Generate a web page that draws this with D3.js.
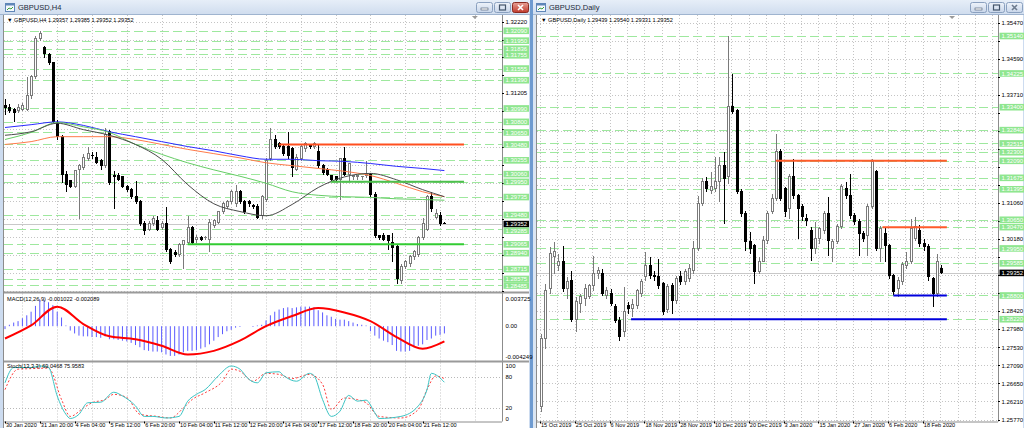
<!DOCTYPE html>
<html><head><meta charset="utf-8">
<script src="https://cdn.jsdelivr.net/npm/d3@7"></script>
<style>
body{margin:0;background:#cddcf0;}
svg{display:block;font-family:"Liberation Sans",Arial,sans-serif;}
</style></head><body>
<svg id="c" width="1024" height="428"></svg>
<script>
// ---------------- DATA: H4 chart ----------------
const h4Open=[1.3102,1.3099,1.3097,1.3095,1.3097,1.3097,1.3116,1.3143,1.3197,1.3185,
1.3174,1.3164,1.3079,1.3059,1.3005,1.2996,1.2988,1.3012,1.3015,1.3028,
1.3032,1.3029,1.3024,1.3017,1.3065,1.3004,1.3004,1.3002,1.2988,1.2984,
1.2974,1.2966,1.2935,1.2927,1.2935,1.2939,1.2930,1.2935,1.2899,1.2894,
1.2892,1.2906,1.2909,1.2929,1.2912,1.2916,1.2915,1.2913,1.2932,1.2937,
1.2952,1.2959,1.2966,1.2963,1.2981,1.2967,1.2967,1.2961,1.2960,1.2946,
1.2970,1.3027,1.3055,1.3048,1.3045,1.3044,1.3041,1.3012,1.3027,1.3041,
1.3046,1.3044,1.3038,1.3017,1.3012,1.3003,1.3002,1.2998,1.3027,1.3005,
1.3002,1.3002,1.3002,1.3003,1.3005,1.2977,1.2918,1.2919,1.2918,1.2909,
1.2903,1.2854,1.2875,1.2878,1.2888,1.2892,1.2916,1.2927,1.2973,1.2944,
1.2946,1.29357];
const h4High=[1.3112,1.3105,1.3100,1.3106,1.3107,1.3143,1.3147,1.3201,1.3209,1.3188,
1.3177,1.3165,1.3083,1.3062,1.3010,1.2998,1.3012,1.3020,1.3034,1.3045,
1.3037,1.3038,1.3027,1.3072,1.3069,1.3010,1.3008,1.3004,1.2991,1.2987,
1.2996,1.2969,1.2939,1.2939,1.2946,1.2946,1.2939,1.2959,1.2902,1.2899,
1.2909,1.2913,1.2946,1.2932,1.2920,1.2919,1.2919,1.2942,1.2942,1.2954,
1.2966,1.2970,1.2983,1.2991,1.2984,1.2970,1.2970,1.2964,1.2963,1.2976,
1.3029,1.3072,1.3062,1.3051,1.3048,1.3066,1.3044,1.3034,1.3048,1.3051,
1.3049,1.3051,1.3048,1.3020,1.3015,1.3005,1.3004,1.3029,1.3045,1.3022,
1.3005,1.3004,1.3004,1.3024,1.3008,1.2980,1.2920,1.2922,1.2920,1.2923,
1.2906,1.2878,1.2885,1.2891,1.2899,1.2919,1.2944,1.2976,1.2981,1.2956,
1.2953,1.29385];
const h4Low=[1.3090,1.3092,1.3080,1.3092,1.3095,1.3095,1.3113,1.3140,1.3194,1.3171,
1.3161,1.3078,1.3055,1.2994,1.2981,1.2986,1.2986,1.2942,1.3012,1.3025,
1.3027,1.3020,1.3012,1.3014,1.2991,1.2956,1.2996,1.2986,1.2980,1.2971,
1.2963,1.2932,1.2920,1.2925,1.2932,1.2925,1.2927,1.2896,1.2879,1.2888,
1.2889,1.2871,1.2906,1.2906,1.2908,1.2911,1.2912,1.2895,1.2929,1.2935,
1.2949,1.2956,1.2963,1.2960,1.2964,1.2950,1.2960,1.2956,1.2942,1.2943,
1.2967,1.3024,1.3041,1.3041,1.3031,1.3027,1.3002,1.3010,1.3024,1.3038,
1.3041,1.3041,1.3014,1.3005,1.3003,1.2996,1.2996,1.2970,1.3003,1.2996,
1.2998,1.2998,1.2998,1.3000,1.2974,1.2915,1.2913,1.2911,1.2899,1.2882,
1.2850,1.2851,1.2872,1.2875,1.2885,1.2889,1.2913,1.2925,1.2953,1.2942,
1.2932,1.29352];
const h4Close=[1.3099,1.3096,1.3093,1.3100,1.3102,1.3116,1.3144,1.3197,1.3205,1.3176,
1.3164,1.3080,1.3059,1.3005,1.2991,1.2988,1.3010,1.3017,1.3029,1.3034,
1.3031,1.3022,1.3017,1.3062,1.2994,1.3002,1.2998,1.2988,1.2984,1.2974,
1.2966,1.2935,1.2925,1.2935,1.2942,1.2927,1.2935,1.2899,1.2882,1.2891,
1.2906,1.2911,1.2929,1.2909,1.2916,1.2913,1.2916,1.2937,1.2939,1.2952,
1.2963,1.2966,1.2980,1.2981,1.2967,1.2953,1.2963,1.2959,1.2944,1.2973,
1.3024,1.3055,1.3044,1.3044,1.3034,1.3031,1.3015,1.3029,1.3045,1.3048,
1.3044,1.3048,1.3017,1.3008,1.3005,1.2998,1.2998,1.3027,1.3005,1.3020,
1.3003,1.3003,1.3002,1.3005,1.2977,1.2918,1.2916,1.2913,1.2911,1.2902,
1.2857,1.2875,1.2882,1.2888,1.2896,1.2916,1.2935,1.2973,1.2956,1.2949,
1.2935,1.29352];
const h4DateLabels=["30 Jan 2020","31 Jan 20:00","4 Feb 04:00","5 Feb 12:00","6 Feb 20:00","10 Feb 04:00","11 Feb 12:00","12 Feb 20:00","14 Feb 04:00","17 Feb 12:00","18 Feb 20:00","20 Feb 04:00","21 Feb 12:00"];
const h4DateIdx=[0,8,16,24,32,40,48,56,64,72,80,88,96];
const h4Ticks=[1.32220,1.31965,1.31715,1.31460,1.31205,1.30950,1.30695,1.30440,1.30185,1.29930,1.29680,1.29425,1.29170,1.28915,1.28660,1.28410];
const h4Levels=[1.32090,1.31950,1.31836,1.31755,1.31555,1.31390,1.30990,1.30800,1.30650,1.30480,1.30255,1.30060,1.29950,1.29735,1.29480,1.29285,1.29065,1.28940,1.28715,1.28575,1.28485];
const h4Header=["1.29357","1.29385","1.29352","1.29352"];
// moving averages (sampled at bar indices)
const maIdx=[0,6,12,18,24,30,36,42,48,54,60,66,72,78,84,90,96,101];
const maBlue=[1.3072,1.3076,1.3080,1.3075,1.3066,1.3059,1.3052,1.3045,1.3039,1.3032,1.3027,1.3027,1.3025,1.3024,1.3021,1.3017,1.3014,1.3011];
const maOrange=[1.3048,1.3052,1.3059,1.3059,1.3059,1.3055,1.3048,1.3041,1.3035,1.3029,1.3022,1.3018,1.3014,1.3010,1.3004,1.2993,1.2981,1.2974];
const maGreen=[1.3055,1.3065,1.3079,1.3073,1.3065,1.3048,1.3034,1.3022,1.3012,1.3003,1.2993,1.2981,1.2976,1.2974,1.2973,1.2971,1.2970,1.2969];
const maGray=[1.3061,1.3066,1.3078,1.3069,1.3061,1.3048,1.3027,1.2991,1.2964,1.2953,1.2947,1.2963,1.2987,1.3002,1.3007,1.2998,1.2984,1.2974];
// objects on H4
const h4LinePrice=[1.30480,1.29950,1.29065];
const h4LineFrom=[63,75,42];
const h4LineTo=[105.5,105.5,105.5];
const h4LineColor=["#ff4f1f","#4dbf4d","#33cc33"];
// MACD
const macdHist=[-0.0004,0.0002,0.0005,0.0007,0.0011,0.0015,0.0020,0.0028,0.0037,0.0036,
0.0033,0.0029,0.0020,0.0012,0.0001,-0.0006,-0.0010,-0.0013,-0.0014,-0.0014,
-0.0015,-0.0015,-0.0016,-0.0014,-0.0018,-0.0018,-0.0019,-0.0020,-0.0021,-0.0023,
-0.0026,-0.0029,-0.0033,-0.0034,-0.0035,-0.0035,-0.0036,-0.0039,-0.0041,-0.0041,
-0.0039,-0.0036,-0.0034,-0.0034,-0.0033,-0.0031,-0.0029,-0.0025,-0.0020,-0.0015,
-0.0011,-0.0007,-0.0005,-0.0002,-0.0001,0.0000,0.0000,-0.0001,0.0001,0.0002,
0.0008,0.0015,0.0020,0.0023,0.0025,0.0026,0.0025,0.0026,0.0027,0.0027,
0.0027,0.0026,0.0022,0.0019,0.0015,0.0013,0.0010,0.0009,0.0009,0.0007,
0.0005,0.0003,0.0002,0.0001,-0.0007,-0.0013,-0.0017,-0.0020,-0.0022,-0.0026,
-0.0034,-0.0035,-0.0035,-0.0034,-0.0029,-0.0027,-0.0025,-0.0019,-0.0017,-0.0013,
-0.0012,-0.0010];
const macdSigIdx=[0,6,12,18,24,30,36,42,48,54,60,66,72,78,84,90,96,101];
const macdSig=[-0.0017,0.0001,0.0027,0.0003,-0.0014,-0.0018,-0.0027,-0.0039,-0.0034,-0.0020,0.0000,0.0014,0.0025,0.0019,0.0007,-0.0015,-0.0031,-0.0021];
const macdTicks=["0.003725","0.00","-0.004249"];
const macdTickVals=[0.003725,0,-0.004249];
// Stochastic
const stMainIdx=[0,2,6,8,10,12,14,15,17,19,22,25,27,30,32,34,37,40,42,44,46,49,52,54,56,58,60,63,64,67,70,71,73,75,77,79,81,83,85,86,91,95,97,98,101];
const stMain=[68,97,97,100,97,43,8,0,8,30,31,50,43,24,4,4,1,4,33,46,55,81,100,94,75,68,87,89,82,71,86,82,36,4,14,44,33,35,11,0,4,24,55,86,69];
const stSigIdx=[0,3,6,10,13,15,18,20,23,25,28,31,35,38,41,43,46,50,52,54,57,60,63,66,70,73,75,78,81,83,86,91,95,97,99,101];
const stSig=[55,94,95,96,36,4,20,30,36,46,40,8,4,1,20,36,49,71,94,90,71,86,84,76,84,65,17,39,36,30,4,1,17,55,81,76];
const stTicks=[100,80,20,0];

// ---------------- DATA: Daily chart ----------------
const dOpen=[1.2608,1.2774,1.2896,1.2975,1.2952,1.2962,1.2896,1.2916,1.2820,1.2858,
1.2872,1.2877,1.2903,1.2933,1.2933,1.2879,1.2884,1.2852,1.2818,1.2790,
1.2855,1.2847,1.2855,1.2884,1.2925,1.2952,1.2928,1.2925,1.2908,1.2845,
1.2903,1.2867,1.2925,1.2913,1.2920,1.2940,1.2994,1.3104,1.3157,1.3135,
1.3140,1.3157,1.3196,1.3170,1.3340,1.3331,1.3133,1.3079,1.3011,1.3001,
1.2938,1.2962,1.3013,1.3084,1.3116,1.3230,1.3140,1.3091,1.3170,1.3123,
1.3096,1.3067,1.3038,1.2994,1.3018,1.3038,1.3079,1.2994,1.3011,1.3047,
1.3140,1.3123,1.3074,1.3060,1.3030,1.3025,1.3096,1.3182,1.2994,1.3030,
1.3001,1.2928,1.2896,1.2913,1.2952,1.2962,1.3018,1.3038,1.3006,1.2999,
1.2920,1.2884,1.29439];
const dHigh=[1.2786,1.2908,1.2999,1.3011,1.2981,1.3001,1.2925,1.2940,1.2877,1.2884,
1.2908,1.2908,1.2977,1.2950,1.2945,1.2901,1.2896,1.2860,1.2828,1.2901,
1.2864,1.2872,1.2896,1.2920,1.2986,1.2974,1.2940,1.2969,1.2913,1.2908,
1.2911,1.2928,1.2940,1.2945,1.2957,1.3013,1.3123,1.3167,1.3170,1.3182,
1.3218,1.3218,1.3230,1.3514,1.3421,1.3335,1.3140,1.3086,1.3035,1.3006,
1.2974,1.3025,1.3086,1.3128,1.3274,1.3238,1.3145,1.3177,1.3213,1.3128,
1.3104,1.3079,1.3047,1.3060,1.3047,1.3086,1.3121,1.3018,1.3055,1.3152,
1.3157,1.3177,1.3082,1.3067,1.3038,1.3104,1.3213,1.3187,1.3050,1.3047,
1.3006,1.2933,1.2925,1.2962,1.2986,1.3067,1.3072,1.3052,1.3018,1.3006,
1.2925,1.2981,1.29540];
const dLow=[1.2596,1.2750,1.2884,1.2933,1.2940,1.2889,1.2872,1.2815,1.2791,1.2838,
1.2855,1.2872,1.2891,1.2920,1.2879,1.2872,1.2855,1.2813,1.2769,1.2779,
1.2835,1.2828,1.2847,1.2877,1.2916,1.2920,1.2916,1.2896,1.2833,1.2838,
1.2835,1.2860,1.2906,1.2906,1.2913,1.2933,1.2989,1.3099,1.3133,1.3128,
1.3133,1.3108,1.3055,1.3152,1.3323,1.3128,1.3072,1.2989,1.2981,1.2908,
1.2933,1.2962,1.3006,1.3079,1.3110,1.3111,1.3072,1.3067,1.3116,1.3018,
1.3062,1.3050,1.2964,1.2981,1.3006,1.3030,1.2977,1.2962,1.3006,1.3043,
1.3116,1.3067,1.3052,1.2977,1.3011,1.2977,1.3091,1.2989,1.2962,1.2962,
1.2920,1.2881,1.2877,1.2906,1.2945,1.2957,1.3013,1.2999,1.2989,1.2916,
1.2852,1.2877,1.29331];
const dClose=[1.2774,1.2891,1.2981,1.2986,1.2962,1.2896,1.2913,1.2820,1.2864,1.2877,
1.2896,1.2903,1.2933,1.2940,1.2884,1.2891,1.2860,1.2818,1.2779,1.2840,
1.2847,1.2857,1.2891,1.2913,1.2952,1.2928,1.2925,1.2903,1.2840,1.2901,
1.2867,1.2920,1.2913,1.2938,1.2945,1.2994,1.3104,1.3157,1.3140,1.3145,
1.3157,1.3196,1.3165,1.3340,1.3328,1.3133,1.3079,1.3011,1.2994,1.2938,
1.2962,1.3013,1.3079,1.3116,1.3230,1.3116,1.3084,1.3170,1.3123,1.3091,
1.3072,1.3062,1.2994,1.3018,1.3043,1.3079,1.3013,1.3011,1.3047,1.3145,
1.3123,1.3074,1.3060,1.3030,1.3018,1.3096,1.3206,1.2994,1.3043,1.3001,
1.2928,1.2889,1.2916,1.2955,1.2962,1.3043,1.3047,1.3006,1.2999,1.2925,
1.2884,1.2962,1.29352];
const dDateLabels=["15 Oct 2019","25 Oct 2019","6 Nov 2019","18 Nov 2019","28 Nov 2019","10 Dec 2019","20 Dec 2019","3 Jan 2020","15 Jan 2020","27 Jan 2020","6 Feb 2020","18 Feb 2020"];
const dDateIdx=[0,8,16,24,32,40,48,56,64,72,80,88];
const dTicks=[1.35470,1.35030,1.34590,1.34150,1.33710,1.33260,1.32820,1.32380,1.31940,1.31500,1.31060,1.30620,1.30180,1.29740,1.29300,1.28860,1.28420,1.27980,1.27530,1.27090,1.26650,1.26210,1.25770];
const dLevels=[1.35140,1.34225,1.33400,1.32840,1.32515,1.32300,1.32090,1.31675,1.31395,1.30650,1.30470,1.29950,1.29585,1.28800,1.28220];
const dHeader=["1.29439","1.29540","1.29331","1.29352"];
const dLinePrice=[1.32090,1.30470,1.28800,1.28220];
const dLineFrom=[54,78.5,81,20.7];
const dLineTo=[93.3,93.3,93.3,93.3];
const dLineColor=["#ff5a2a","#ff5a2a","#0000dd","#0000dd"];
const lastPrice=1.29352;

// ---------------- DRAW ----------------
const svg=d3.select("#c");
const fmt=d3.format(".5f");
svg.append("rect").attr("width",1024).attr("height",428).attr("fill","#cddcf0");
const defs=svg.append("defs");
const tg=defs.append("linearGradient").attr("id","tb").attr("x1",0).attr("y1",0).attr("x2",0).attr("y2",1);
tg.append("stop").attr("offset",0).attr("stop-color","#e6eef8");
tg.append("stop").attr("offset",1).attr("stop-color","#cfdcee");
const bg=defs.append("linearGradient").attr("id","btn").attr("x1",0).attr("y1",0).attr("x2",0).attr("y2",1);
bg.append("stop").attr("offset",0).attr("stop-color","#eef3fa");
bg.append("stop").attr("offset",1).attr("stop-color","#c8d6ea");
const rg=defs.append("linearGradient").attr("id","red").attr("x1",0).attr("y1",0).attr("x2",0).attr("y2",1);
rg.append("stop").attr("offset",0).attr("stop-color","#e8a197");
rg.append("stop").attr("offset",1).attr("stop-color","#c0392b");

function windowFrame(x0,x1,title,active){
  const g=svg.append("g");
  g.append("rect").attr("x",x0).attr("y",0).attr("width",x1-x0).attr("height",15).attr("fill","url(#tb)");
  g.append("line").attr("x1",x0).attr("x2",x1).attr("y1",14.5).attr("y2",14.5).attr("stroke","#9fb4cf");
  g.append("rect").attr("x",x0+5.5).attr("y",3.5).attr("width",9).attr("height",8).attr("fill","#f4f8fd").attr("stroke","#5f86b8");
  g.append("rect").attr("x",x0+5.5).attr("y",3.5).attr("width",9).attr("height",2).attr("fill","#5f86b8");
  g.append("path").attr("d",`M${x0+7} 10L${x0+9} 8L${x0+11} 9L${x0+13} 7`).attr("fill","none").attr("stroke","#3aa03a");
  g.append("text").attr("x",x0+18).attr("y",10).attr("font-size",7.5).attr("fill","#1e2a3a").text(title);
  const bx=[x1-54,x1-36,x1-18];
  bx.forEach((b,k)=>{
    const red=(k===2&&active);
    g.append("rect").attr("x",b+0.5).attr("y",2.5).attr("width",16).attr("height",10).attr("rx",2)
      .attr("fill",red?"url(#red)":"url(#btn)").attr("stroke",red?"#8a2a22":"#8aa0bf");
    if(k===0) g.append("rect").attr("x",b+5).attr("y",8).attr("width",7).attr("height",2).attr("fill","#fff").attr("stroke","#44556b").attr("stroke-width",0.6);
    if(k===1) g.append("rect").attr("x",b+5.5).attr("y",5).attr("width",6).attr("height",5).attr("fill","none").attr("stroke","#44556b").attr("stroke-width",1.2);
    if(k===2) g.append("path").attr("d",`M${b+6} 5L${b+11} 10M${b+11} 5L${b+6} 10`).attr("stroke",red?"#fff":"#6d7b8e").attr("stroke-width",1.6);
  });
}
windowFrame(0,530,"GBPUSD,H4",true);
windowFrame(531,1024,"GBPUSD,Daily",false);
svg.append("rect").attr("x",4).attr("y",15).attr("width",525).attr("height",413).attr("fill","#fff");
svg.append("rect").attr("x",537).attr("y",15).attr("width",486).attr("height",413).attr("fill","#fff");
svg.append("rect").attr("x",530).attr("y",0).attr("width",3).attr("height",428).attr("fill","#6f9bd0");
svg.append("rect").attr("x",533).attr("y",15).attr("width",4).attr("height",413).attr("fill","#dbe6f3");

const AX="#000", GRID="#c4c4c4", LBLH=6.6;
function textAxis(g,x,y,t,opts={}){
  return g.append("text").attr("x",x).attr("y",y).attr("dy","0.35em").attr("font-size",opts.size||6)
    .attr("fill",opts.fill||AX).text(t);
}
// stack price labels like the terminal: overlapping labels are pushed down
function stackLabels(levels,scale){
  const items=levels.map(v=>({v,y:scale(v),last:false})).concat([{v:lastPrice,y:scale(lastPrice),last:true}]);
  items.sort((a,b)=>a.y-b.y);
  let prev=-1e9;
  items.forEach(it=>{ it.ly=Math.max(it.y,prev+LBLH); prev=it.ly; });
  return items;
}
function drawPriceAxis(g,x1,ticks,levels,scale){
  ticks.forEach(t=>{
    g.append("line").attr("x1",x1).attr("x2",x1+2).attr("y1",Math.round(scale(t))+0.5).attr("y2",Math.round(scale(t))+0.5).attr("stroke","#000");
  });
  const items=stackLabels(levels,scale);
  ticks.filter(t=>items.every(it=>Math.abs(scale(t)-it.ly)>=LBLH)).forEach(t=>textAxis(g,x1+3.5,scale(t),fmt(t)));
  items.forEach(it=>{
    g.append("rect").attr("x",x1+1.5).attr("y",it.ly-LBLH/2).attr("width",25.5).attr("height",LBLH)
      .attr("fill",it.last?"#000":"#8fe68f");
    textAxis(g,x1+3.5,it.ly,fmt(it.v),{fill:"#fff"});
  });
}

// ===== LEFT (H4) =====
const L={x0:4,x1:502,top:15,mainB:291.5,macdT:293.5,macdB:360.5,stT:362.5,stB:421.5};
const xL=d3.scaleLinear().domain([0,101]).range([5,444.4]);
const yL=d3.scaleLinear().domain([1.28410,1.32220]).range([290.6,21.6]);
const yM=d3.scaleLinear().domain([-0.004249,0.003725]).range([357,299.2]);
const yS=d3.scaleLinear().domain([0,100]).range([418.5,366]);
const gl=svg.append("g");
defs.append("clipPath").attr("id","clL").append("rect").attr("x",L.x0).attr("y",L.top).attr("width",L.x1-L.x0).attr("height",L.mainB-L.top);
defs.append("clipPath").attr("id","clR").append("rect").attr("x",537).attr("y",15).attr("width",998-537).attr("height",421.5-15);

const vgL=d3.range(4,118,8).map(i=>xL(i)).filter(x=>x<L.x1);
[[L.top,L.mainB],[L.macdT,L.macdB],[L.stT,L.stB]].forEach(([a,b])=>{
  gl.selectAll(null).data(vgL).join("line").attr("x1",d=>Math.round(d)+0.5).attr("x2",d=>Math.round(d)+0.5)
    .attr("y1",a).attr("y2",b).attr("stroke",GRID).attr("stroke-dasharray","1,2");
});
gl.selectAll(null).data(h4Ticks).join("line").attr("x1",L.x0).attr("x2",L.x1)
  .attr("y1",d=>Math.round(yL(d))+0.5).attr("y2",d=>Math.round(yL(d))+0.5).attr("stroke",GRID).attr("stroke-dasharray","1,2");
gl.selectAll(null).data(h4Levels).join("line").attr("x1",L.x0).attr("x2",L.x1)
  .attr("y1",d=>Math.round(yL(d))+0.5).attr("y2",d=>Math.round(yL(d))+0.5).attr("stroke","#9ee89e").attr("stroke-dasharray","9,4");
gl.append("line").attr("x1",L.x0).attr("x2",L.x1).attr("y1",Math.round(yL(lastPrice))+0.5).attr("y2",Math.round(yL(lastPrice))+0.5).attr("stroke","#c8c8c8");

function drawCandles(g,x,y,O,Hh,Lo,C,clip){
  const idx=d3.range(O.length);
  const cg=g.append("g").attr("clip-path",`url(#${clip})`).attr("shape-rendering","crispEdges");
  cg.selectAll("line.w").data(idx).join("line").attr("class","w")
    .attr("x1",i=>Math.round(x(i))+0.5).attr("x2",i=>Math.round(x(i))+0.5)
    .attr("y1",i=>y(Hh[i])).attr("y2",i=>y(Lo[i]))
    .attr("stroke",i=>C[i]>=O[i]?"#7a7a7a":"#000");
  cg.selectAll("rect.b").data(idx).join("rect").attr("class","b")
    .attr("x",i=>Math.round(x(i))-0.5).attr("width",2)
    .attr("y",i=>Math.min(y(O[i]),y(C[i]))-0.5)
    .attr("height",i=>Math.max(0.5,Math.abs(y(O[i])-y(C[i]))))
    .attr("fill",i=>C[i]>=O[i]?"#fff":"#000")
    .attr("stroke",i=>C[i]>=O[i]?"#7a7a7a":"#000");
  return cg;
}
drawCandles(gl,xL,yL,h4Open,h4High,h4Low,h4Close,"clL");

const maG=gl.append("g").attr("clip-path","url(#clL)");
[[maBlue,"#2a2aff"],[maOrange,"#ff7a4a"],[maGreen,"#66cc66"],[maGray,"#4a4a4a"]].forEach(([arr,col])=>{
  maG.append("path").datum(maIdx.map((d,k)=>[d,arr[k]]))
    .attr("d",d3.line().x(d=>xL(d[0])).y(d=>yL(d[1])).curve(d3.curveMonotoneX))
    .attr("fill","none").attr("stroke",col).attr("stroke-width",1);
});
h4LinePrice.forEach((p,k)=>{
  gl.append("line").attr("x1",xL(h4LineFrom[k])).attr("x2",xL(h4LineTo[k])).attr("y1",yL(p)).attr("y2",yL(p))
    .attr("stroke",h4LineColor[k]).attr("stroke-width",2);
});
gl.append("path").attr("d",`M${xL(108)-3} 16L${xL(108)+3} 16L${xL(108)} 19Z`).attr("fill","#9a9a9a");
gl.append("text").attr("x",7).attr("y",21.5).attr("font-size",5.6).attr("fill","#000")
  .text("\u25BC GBPUSD,H4  "+h4Header.join(" "));

// MACD panel
const mg=gl.append("g");
mg.selectAll(null).data(macdHist).join("line")
  .attr("x1",(d,i)=>xL(i)).attr("x2",(d,i)=>xL(i)).attr("y1",yM(0)).attr("y2",d=>yM(d))
  .attr("stroke","#5a5aff").attr("stroke-width",1);
mg.append("path").datum(macdSigIdx.map((d,k)=>[d,macdSig[k]]))
  .attr("d",d3.line().x(d=>xL(d[0])).y(d=>yM(d[1])).curve(d3.curveMonotoneX))
  .attr("fill","none").attr("stroke","#ff0000").attr("stroke-width",2);
mg.append("text").attr("x",7).attr("y",301).attr("font-size",5.6).attr("fill","#000").text("MACD(12,26,9) -0.001022 -0.002089");

// Stoch panel
[80,20].forEach(v=>{
  mg.append("line").attr("x1",L.x0).attr("x2",L.x1).attr("y1",Math.round(yS(v))+0.5).attr("y2",Math.round(yS(v))+0.5)
    .attr("stroke","#b8b8b8").attr("stroke-dasharray","1,2");
});
mg.append("path").datum(stSigIdx.map((d,k)=>[d,stSig[k]]))
  .attr("d",d3.line().x(d=>xL(d[0])).y(d=>yS(d[1])).curve(d3.curveMonotoneX))
  .attr("fill","none").attr("stroke","#ff3b3b").attr("stroke-width",1).attr("stroke-dasharray","2,2");
mg.append("path").datum(stMainIdx.map((d,k)=>[d,stMain[k]]))
  .attr("d",d3.line().x(d=>xL(d[0])).y(d=>yS(d[1])).curve(d3.curveMonotoneX))
  .attr("fill","none").attr("stroke","#3cc4c4").attr("stroke-width",1);
mg.append("text").attr("x",7).attr("y",368).attr("font-size",5.6).attr("fill","#000").text("Stoch(13,3,3) 69.0468 75.9583");

const fr=svg.append("g").attr("fill","none").attr("stroke","#8c8c8c");
fr.append("line").attr("x1",L.x1+0.5).attr("x2",L.x1+0.5).attr("y1",L.top).attr("y2",L.stB);
fr.append("line").attr("x1",L.x0-0.5).attr("x2",L.x0-0.5).attr("y1",L.top).attr("y2",428);
[L.mainB+1,L.macdB+1].forEach(y=>fr.append("line").attr("x1",L.x0).attr("x2",529).attr("y1",y).attr("y2",y).attr("stroke-width",2).attr("stroke","#9a9a9a"));
fr.append("line").attr("x1",L.x0).attr("x2",L.x1).attr("y1",L.stB+0.5).attr("y2",L.stB+0.5);

const al=svg.append("g");
drawPriceAxis(al,L.x1,h4Ticks,h4Levels,yL);
macdTickVals.forEach((v,k)=>textAxis(al,L.x1+3.5,yM(v),macdTicks[k]));
stTicks.forEach(v=>textAxis(al,L.x1+3.5,yS(v),String(v)));
h4DateIdx.forEach((d,k)=>{
  al.append("line").attr("x1",Math.round(xL(d))+0.5).attr("x2",Math.round(xL(d))+0.5).attr("y1",L.stB).attr("y2",L.stB+2).attr("stroke","#000");
  al.append("text").attr("x",xL(d)+1).attr("y",427).attr("font-size",5.6).attr("fill","#000").text(h4DateLabels[k]);
});

// ===== RIGHT (Daily) =====
const R={x0:537,x1:998,top:15,bot:421.5};
const xR=d3.scaleLinear().domain([0,92]).range([541,941.2]);
const yR=d3.scaleLinear().domain([1.25770,1.35470]).range([419.5,22.5]);
const gr=svg.append("g");
const vgR=d3.range(0,112,4).map(i=>xR(i)).filter(x=>x<R.x1);
gr.selectAll(null).data(vgR).join("line").attr("x1",d=>Math.round(d)-0.5).attr("x2",d=>Math.round(d)-0.5)
  .attr("y1",R.top).attr("y2",R.bot).attr("stroke",GRID).attr("stroke-dasharray","1,2");
gr.selectAll(null).data(dTicks).join("line").attr("x1",R.x0).attr("x2",R.x1)
  .attr("y1",d=>Math.round(yR(d))+0.5).attr("y2",d=>Math.round(yR(d))+0.5).attr("stroke",GRID).attr("stroke-dasharray","1,2");
gr.selectAll(null).data(dLevels).join("line").attr("x1",R.x0).attr("x2",R.x1)
  .attr("y1",d=>Math.round(yR(d))+0.5).attr("y2",d=>Math.round(yR(d))+0.5).attr("stroke","#9ee89e").attr("stroke-dasharray","9,4");
gr.append("line").attr("x1",R.x0).attr("x2",R.x1).attr("y1",Math.round(yR(lastPrice))+0.5).attr("y2",Math.round(yR(lastPrice))+0.5).attr("stroke","#c8c8c8");
drawCandles(gr,xR,yR,dOpen,dHigh,dLow,dClose,"clR");
dLinePrice.forEach((p,k)=>{
  gr.append("line").attr("x1",xR(dLineFrom[k])).attr("x2",xR(dLineTo[k])).attr("y1",yR(p)).attr("y2",yR(p))
    .attr("stroke",dLineColor[k]).attr("stroke-width",2);
});
gr.append("path").attr("d",`M${xR(94.5)-3} 16L${xR(94.5)+3} 16L${xR(94.5)} 19Z`).attr("fill","#9a9a9a");
gr.append("text").attr("x",541).attr("y",21.5).attr("font-size",5.6).attr("fill","#000")
  .text("\u25BC GBPUSD,Daily  "+dHeader.join(" "));
const fr2=svg.append("g").attr("stroke","#8c8c8c");
fr2.append("line").attr("x1",R.x1+0.5).attr("x2",R.x1+0.5).attr("y1",R.top).attr("y2",R.bot);
fr2.append("line").attr("x1",R.x0-0.5).attr("x2",R.x0-0.5).attr("y1",R.top).attr("y2",428);
fr2.append("line").attr("x1",R.x0).attr("x2",R.x1).attr("y1",R.bot+0.5).attr("y2",R.bot+0.5);
const ar=svg.append("g");
drawPriceAxis(ar,R.x1,dTicks,dLevels,yR);
dDateIdx.forEach((d,k)=>{
  ar.append("line").attr("x1",Math.round(xR(d))-0.5).attr("x2",Math.round(xR(d))-0.5).attr("y1",R.bot).attr("y2",R.bot+2).attr("stroke","#000");
  ar.append("text").attr("x",xR(d)).attr("y",427).attr("font-size",5.6).attr("fill","#000").text(dDateLabels[k]);
});
</script></body></html>
